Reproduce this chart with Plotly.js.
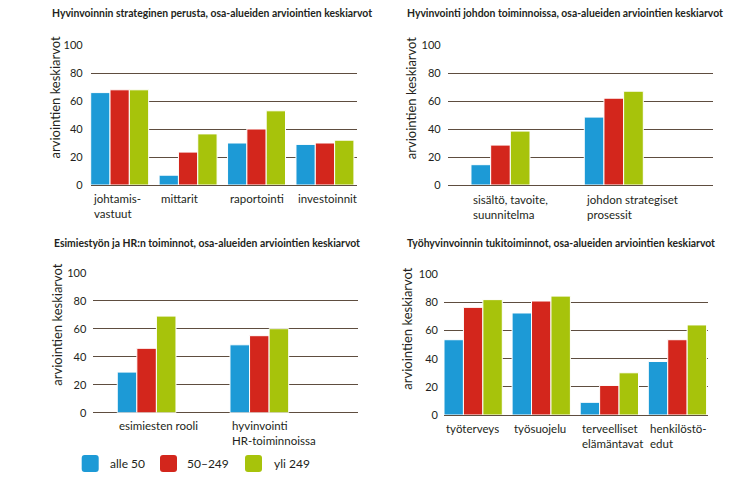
<!DOCTYPE html>
<html>
<head>
<meta charset="utf-8">
<script src="https://cdn.plot.ly/plotly-3.0.1.min.js"></script>
<style>html,body{margin:0;padding:0;background:#fff;}#chart{width:734px;height:489px;}</style>
</head>
<body>
<div id="chart"></div>
<script>
// ---- data ----
const seriesNames = ['alle 50', '50–249', 'yli 249'];

const titles = [
  'Hyvinvoinnin strateginen perusta, osa-alueiden arviointien keskiarvot',
  'Hyvinvointi johdon toiminnoissa, osa-alueiden arviointien keskiarvot',
  'Esimiestyön ja HR:n toiminnot, osa-alueiden arviointien keskiarvot',
  'Työhyvinvoinnin tukitoiminnot, osa-alueiden arviointien keskiarvot'
];
const yTitle = 'arviointien keskiarvot';
const yTicks = [0, 20, 40, 60, 80, 100];

const cats1 = ['johtamis-\nvastuut', 'mittarit', 'raportointi', 'investoinnit'];
const p1_alle50 = [66, 7, 30, 29];
const p1_50_249 = [68, 23.5, 40, 30];
const p1_yli249 = [68, 36.5, 53, 32];

const cats2 = ['sisältö, tavoite,\nsuunnitelma', 'johdon strategiset\nprosessit'];
const p2_alle50 = [14.5, 48.5];
const p2_50_249 = [28.5, 62];
const p2_yli249 = [38.5, 67];

const cats3 = ['esimiesten rooli', 'hyvinvointi\nHR-toiminnoissa'];
const p3_alle50 = [29, 48.5];
const p3_50_249 = [46, 55];
const p3_yli249 = [69, 60];

const cats4 = ['työterveys', 'työsuojelu', 'terveelliset\nelämäntavat', 'henkilöstö-\nedut'];
const p4_alle50 = [53.5, 72.5, 9, 38];
const p4_50_249 = [76.5, 81, 21, 53.5];
const p4_yli249 = [82, 84.5, 30, 64];

// ---- style ----
const colors = ['#1d9ad6', '#d3261c', '#a7c30b'];
const gridColor = '#5e4d3f';
const textColor = '#231f20';
const W = 734, H = 489;
const bodyFont = 'Lato, "Open Sans", sans-serif';

const px = x => x / W;
const py = y => 1 - y / H;

const panels = [
  {cats: cats1, vals: [p1_alle50, p1_50_249, p1_yli249], x0: 90.7, x1: 356.7, y0: 45, y1: 185,
   bargap: 0.153, range: [-0.4235, 3.464], titleX: 50, titleY: 13, titleW: 299, ytX: 55, ytY: 97.5, tickRight: 82,
   lab1: 200},
  {cats: cats2, vals: [p2_alle50, p2_50_249, p2_yli249], x0: 447.7, x1: 712.7, y0: 45, y1: 185,
   bargap: 0.479, range: [-0.466, 1.873], titleX: 405, titleY: 13, titleW: 296, ytX: 411.7, ytY: 97.5, tickRight: 440,
   lab1: 201},
  {cats: cats3, vals: [p3_alle50, p3_50_249, p3_yli249], x0: 93.3, x1: 358.3, y0: 272.7, y1: 412.7,
   bargap: 0.479, range: [-0.473, 1.878], titleX: 51.7, titleY: 243.3, titleW: 283, ytX: 56.7, ytY: 324, tickRight: 85,
   lab1: 427},
  {cats: cats4, vals: [p4_alle50, p4_50_249, p4_yli249], x0: 444, x1: 708.3, y0: 274.3, y1: 415,
   bargap: 0.144, range: [-0.428, 3.453], titleX: 405, titleY: 243.3, titleW: 289, ytX: 406.7, ytY: 328, tickRight: 436.7,
   lab1: 430}
];

// ---- pick the narrowest installed bold face for the condensed panel titles ----
const canvas = document.createElement('canvas');
const ctx = canvas.getContext('2d');
function measure(fontCss, txt) { ctx.font = fontCss; return ctx.measureText(txt).width; }
const probe = 'Hyvinvoinnin strateginen perusta abcdefghijklmnopqrstuvwxyz';
const candidates = ['Liberation Sans Narrow', 'DejaVu Sans Condensed', 'Roboto', 'Liberation Sans', 'Noto Sans', 'Lato'];
let best = null, bestW = Infinity;
candidates.forEach(f => {
  const a = measure(`bold 12px "${f}", monospace`, probe);
  const b = measure('bold 12px monospace', probe);
  if (Math.abs(a - b) < 0.5) return; // not installed
  if (a < bestW) { bestW = a; best = f; }
});
if (!best) best = 'Liberation Sans';
const titleFont = `"${best}", "Liberation Sans", sans-serif`;
let titleSize = 12;
panels.forEach((p, i) => {
  const w12 = measure(`bold 12px "${best}"`, titles[i]);
  titleSize = Math.min(titleSize, 12 * (p.titleW * 1.09) / w12);
});
titleSize = Math.floor(titleSize * 10) / 10;

const data = [];
const annotations = [];
const shapes = [];
const layout = {
  width: W, height: H,
  margin: {l: 0, r: 0, t: 0, b: 0},
  paper_bgcolor: '#ffffff', plot_bgcolor: '#ffffff',
  showlegend: false,
  barmode: 'group',
  font: {family: bodyFont, color: textColor}
};

panels.forEach((p, i) => {
  const n = i + 1;
  const xa = 'x' + (n === 1 ? '' : n), ya = 'y' + (n === 1 ? '' : n);
  const xk = 'xaxis' + (n === 1 ? '' : n), yk = 'yaxis' + (n === 1 ? '' : n);
  const gw = 1 - p.bargap;
  const w = gw / 3;
  p.vals.forEach((v, s) => {
    data.push({
      type: 'bar', x: p.cats, y: v, name: seriesNames[s], xaxis: xa, yaxis: ya,
      marker: {color: colors[s], line: {color: '#ffffff', width: 1}},
      width: w, offset: -gw / 2 + s * w, hoverinfo: 'x+y+name'
    });
  });
  layout[xk] = {
    domain: [px(p.x0), px(p.x1)], anchor: ya, type: 'category',
    range: p.range, showticklabels: false, showgrid: false, zeroline: false,
    showline: false, ticks: '', fixedrange: true
  };
  layout[yk] = {
    domain: [py(p.y1), py(p.y0)], anchor: xa, range: [0, 100],
    tickvals: yTicks, showgrid: true, gridcolor: gridColor, gridwidth: 1,
    zeroline: true, zerolinecolor: gridColor, zerolinewidth: 1,
    showline: false, ticks: '', ticklabelstandoff: Math.round(p.x0 - p.tickRight) - 2,
    tickfont: {size: 11, family: bodyFont, color: textColor}, fixedrange: true
  };
  // panel title
  annotations.push({
    xref: 'paper', yref: 'paper', x: px(p.titleX), y: py(p.titleY),
    xanchor: 'left', yanchor: 'middle', align: 'left', showarrow: false, text: titles[i],
    font: {family: titleFont, size: titleSize, weight: 'bold', color: textColor}
  });
  // y title
  annotations.push({
    xref: 'paper', yref: 'paper', x: px(p.ytX), y: py(p.ytY),
    xanchor: 'center', yanchor: 'middle', showarrow: false, textangle: -90, text: yTitle,
    font: {family: bodyFont, size: 13, color: textColor}
  });
  // x labels (left aligned under each group)
  const half = gw / 2;
  p.cats.forEach((c, ci) => {
    annotations.push({
      xref: xa, yref: 'paper', x: ci - half, y: py(p.lab1 - 10),
      xanchor: 'left', yanchor: 'top', align: 'left', showarrow: false,
      text: c.split('\n').join('<br>'),
      font: {family: bodyFont, size: 11.5, color: textColor}
    });
  });
});

// legend (manual, rounded squares)
const legBoxes = [81.7, 160, 245];
const legTexts = [108.3, 185, 271.7];
const legTop = 455, legSize = 17, r = 3;
seriesNames.forEach((nm, s) => {
  const x0 = legBoxes[s], x1 = x0 + legSize, y0 = legTop, y1 = legTop + legSize;
  const path = `M${px(x0 + r)},${py(y0)} L${px(x1 - r)},${py(y0)} Q${px(x1)},${py(y0)} ${px(x1)},${py(y0 + r)} ` +
    `L${px(x1)},${py(y1 - r)} Q${px(x1)},${py(y1)} ${px(x1 - r)},${py(y1)} L${px(x0 + r)},${py(y1)} ` +
    `Q${px(x0)},${py(y1)} ${px(x0)},${py(y1 - r)} L${px(x0)},${py(y0 + r)} Q${px(x0)},${py(y0)} ${px(x0 + r)},${py(y0)} Z`;
  shapes.push({type: 'path', xref: 'paper', yref: 'paper', path: path, fillcolor: colors[s], line: {width: 0}});
  annotations.push({
    xref: 'paper', yref: 'paper', x: px(legTexts[s]), y: py(legTop + legSize / 2),
    xanchor: 'left', yanchor: 'middle', showarrow: false, text: nm,
    font: {family: bodyFont, size: 12, color: textColor}
  });
});

layout.annotations = annotations;
layout.shapes = shapes;

Plotly.newPlot('chart', data, layout, {displayModeBar: false, staticPlot: true});
</script>
</body>
</html>
